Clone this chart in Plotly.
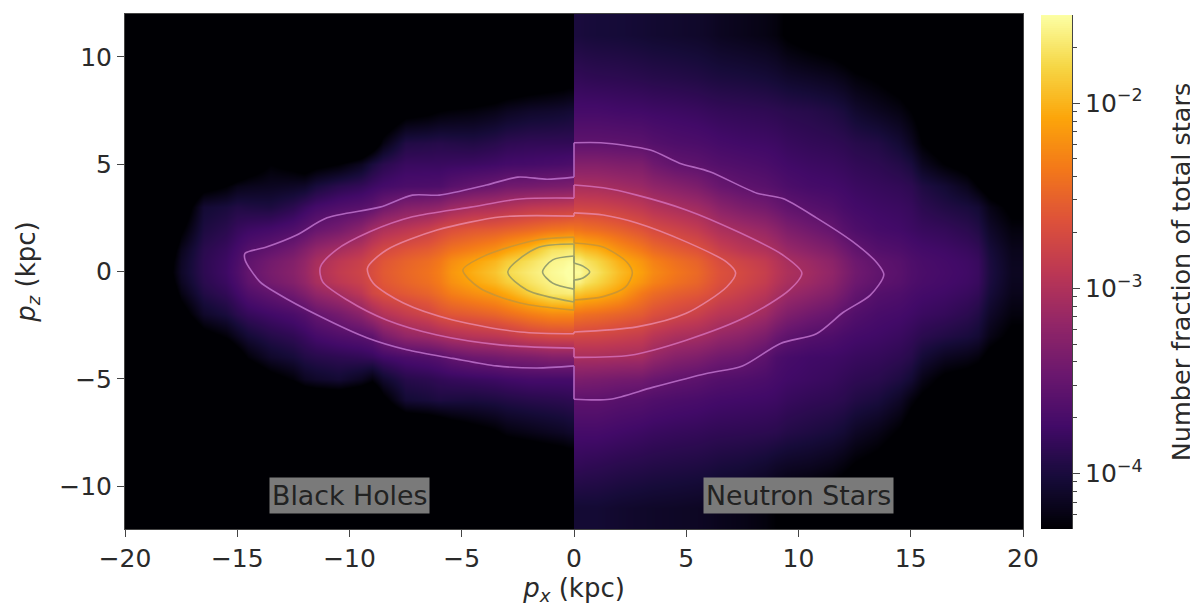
import numpy as np
import plotly.graph_objects as go

# Vertical sample positions (kpc), listed from top to bottom
pz_rows = [11, 9, 7.5, 6, 5, 4, 3, 2, 1, .5, 0, -.5, -1, -2, -3, -4, -5, -6, -7.5, -9, -11]

# Cell edges along px (kpc) for the neutron star half; the black hole half mirrors them
px_edges = [0, .5, 1.5, 2.5, 3.5, 5.5, 6.5, 8.5, 9.5, 11.5, 12.5, 14.5, 15.5, 17.5, 18.5, 20.5]

# log10(number fraction), one list per px column, going outward from px = 0
ns_columns = [
    [-4.0, -3.85, -3.72, -3.55, -3.3, -3.05, -2.77, -2.4, -1.9, -1.63, -1.55, -1.63, -1.9, -2.4, -2.75, -3.05, -3.35, -3.56, -3.72, -3.85, -4.05],
    [-4.02, -3.87, -3.72, -3.55, -3.3, -3.06, -2.78, -2.45, -2.0, -1.8, -1.72, -1.8, -1.98, -2.44, -2.76, -3.05, -3.37, -3.56, -3.72, -3.87, -4.05],
    [-4.03, -3.88, -3.74, -3.56, -3.33, -3.1, -2.83, -2.53, -2.2, -2.02, -1.95, -2.0, -2.12, -2.5, -2.8, -3.07, -3.4, -3.6, -3.75, -3.9, -4.08],
    [-4.05, -3.9, -3.75, -3.58, -3.35, -3.15, -2.9, -2.63, -2.35, -2.18, -2.12, -2.18, -2.35, -2.57, -2.85, -3.08, -3.42, -3.62, -3.78, -3.92, -4.1],
    [-4.08, -3.93, -3.78, -3.66, -3.53, -3.28, -3.04, -2.78, -2.55, -2.42, -2.37, -2.41, -2.53, -2.74, -3.03, -3.28, -3.53, -3.68, -3.82, -3.95, -4.12],
    [-4.12, -3.97, -3.82, -3.7, -3.6, -3.42, -3.17, -2.95, -2.71, -2.6, -2.56, -2.58, -2.65, -2.88, -3.12, -3.38, -3.6, -3.72, -3.85, -3.98, -4.15],
    [-4.18, -4.0, -3.85, -3.75, -3.66, -3.55, -3.35, -3.1, -2.92, -2.78, -2.73, -2.75, -2.83, -3.0, -3.25, -3.47, -3.65, -3.75, -3.87, -4.02, -4.2],
    [-4.25, -4.05, -3.88, -3.78, -3.72, -3.63, -3.47, -3.25, -3.06, -2.96, -2.93, -2.96, -3.04, -3.23, -3.47, -3.67, -3.72, -3.78, -3.9, -4.1, -4.3],
    [-4.4, -4.12, -3.92, -3.84, -3.78, -3.72, -3.6, -3.43, -3.25, -3.14, -3.1, -3.13, -3.22, -3.42, -3.62, -3.75, -3.78, -3.85, -3.97, -4.15, -4.4],
    [-4.5, -4.2, -4.0, -3.88, -3.82, -3.76, -3.7, -3.6, -3.43, -3.35, -3.32, -3.35, -3.41, -3.57, -3.7, -3.78, -3.84, -3.9, -4.05, -4.25, -4.5],
    [-4.6, -4.32, -4.15, -3.95, -3.88, -3.82, -3.77, -3.72, -3.62, -3.55, -3.53, -3.55, -3.62, -3.7, -3.76, -3.83, -3.9, -4.0, -4.2, -4.38, -4.6],
    [-4.7, -4.5, -4.3, -4.15, -4.0, -3.88, -3.82, -3.78, -3.7, -3.66, -3.65, -3.66, -3.7, -3.76, -3.84, -3.92, -4.05, -4.25, -4.45, -4.6, -4.75],
    [-4.8, -4.65, -4.5, -4.45, -4.3, -4.05, -3.95, -3.84, -3.76, -3.73, -3.72, -3.73, -3.76, -3.83, -3.95, -4.15, -4.35, -4.45, -4.6, -4.75, -4.85],
    [-4.9, -4.8, -4.75, -4.65, -4.5, -4.3, -4.05, -3.95, -3.85, -3.81, -3.8, -3.81, -3.85, -3.95, -4.05, -4.25, -4.45, -4.6, -4.75, -4.85, -4.95],
    [-5, -5, -4.9, -4.8, -4.7, -4.55, -4.35, -4.25, -4.18, -4.16, -4.15, -4.16, -4.18, -4.25, -4.35, -4.5, -4.65, -4.8, -4.9, -5, -5],
]
bh_columns = [
    [-4.9, -4.4, -4.05, -3.85, -3.68, -3.35, -2.85, -2.37, -1.68, -1.55, -1.5, -1.54, -1.65, -2.25, -2.72, -3.3, -3.72, -3.88, -4.1, -4.5, -4.9],
    [-4.95, -4.45, -4.08, -3.85, -3.7, -3.37, -2.87, -2.4, -1.72, -1.6, -1.57, -1.6, -1.68, -2.25, -2.73, -3.3, -3.72, -3.9, -4.15, -4.55, -4.95],
    [-5, -4.5, -4.1, -3.85, -3.72, -3.4, -2.9, -2.47, -1.95, -1.74, -1.67, -1.72, -1.85, -2.33, -2.78, -3.35, -3.72, -3.92, -4.2, -4.6, -5],
    [-5, -4.55, -4.15, -3.87, -3.73, -3.42, -2.97, -2.53, -2.1, -1.87, -1.78, -1.86, -2.05, -2.43, -2.88, -3.38, -3.75, -3.95, -4.25, -4.65, -5],
    [-5, -4.65, -4.25, -3.95, -3.78, -3.52, -3.05, -2.6, -2.3, -2.1, -2.03, -2.08, -2.22, -2.55, -2.95, -3.45, -3.8, -4.0, -4.4, -4.8, -5],
    [-5, -4.75, -4.3, -3.92, -3.8, -3.66, -3.22, -2.73, -2.48, -2.36, -2.32, -2.34, -2.42, -2.65, -3.07, -3.6, -3.85, -3.98, -4.6, -4.9, -5],
    [-5, -4.8, -4.4, -3.95, -3.8, -3.68, -3.3, -2.92, -2.62, -2.51, -2.48, -2.5, -2.58, -2.85, -3.2, -3.68, -3.92, -4.05, -4.7, -5, -5],
    [-5, -5, -4.8, -4.5, -4.0, -3.78, -3.55, -3.1, -2.82, -2.71, -2.68, -2.7, -2.75, -3.1, -3.55, -3.82, -4.25, -4.7, -4.9, -5, -5],
    [-5, -5, -4.95, -4.9, -4.3, -3.9, -3.65, -3.4, -3.06, -2.91, -2.87, -2.91, -3.07, -3.4, -3.65, -3.88, -4.05, -4.55, -4.95, -5, -5],
    [-5, -5, -5, -4.9, -4.45, -4.1, -3.8, -3.58, -3.3, -3.2, -3.17, -3.2, -3.32, -3.62, -3.8, -3.95, -4.15, -4.6, -5, -5, -5],
    [-5, -5, -5, -4.9, -4.3, -4.15, -3.98, -3.73, -3.52, -3.41, -3.38, -3.41, -3.53, -3.75, -3.93, -4.1, -4.4, -4.8, -5, -5, -5],
    [-5, -5, -5, -5, -4.65, -4.2, -3.95, -3.82, -3.72, -3.68, -3.66, -3.69, -3.75, -3.9, -4.15, -4.45, -4.8, -5, -5, -5, -5],
    [-5, -5, -5, -5, -5, -4.4, -4.05, -3.98, -3.9, -3.88, -3.88, -3.9, -3.95, -4.1, -4.4, -4.8, -5, -5, -5, -5, -5],
    [-5, -5, -5, -5, -5, -5, -5, -4.7, -4.45, -4.38, -4.35, -4.4, -4.5, -4.75, -5, -5, -5, -5, -5, -5, -5],
    [-5, -5, -5, -5, -5, -5, -5, -5, -5, -4.96, -4.95, -4.96, -5, -5, -5, -5, -5, -5, -5, -5, -5],
]

# Contours, one open arc per half (px, pz)
bh1_x = [0, -1.2, -2.5, -3.9, -6, -7.2, -8.65, -11, -12.35, -13.7, -14.65, -14.65, -14, -13.25, -11.3, -9.2, -7.45, -5.4, -3.45, -1.65, 0]
bh1_z = [4.4, 4.3, 4.4, 4.03, 3.56, 3.56, 3.0, 2.5, 1.7, 1.14, .85, .54, -.47, -1.0, -2.1, -3.1, -3.65, -4.05, -4.4, -4.5, -4.4]
ns1_x = [0, 1.6, 3.5, 5.9, 7.5, 9.2, 10.8, 12, 13.2, 13.8, 13.5, 12.4, 10.8, 9.3, 8.15, 6.05, 4.7, 3.4, 1.2, 0]
ns1_z = [-5.95, -5.95, -5.4, -4.75, -4.4, -3.35, -2.9, -1.9, -1.1, -.15, .4, 1.4, 2.5, 3.4, 3.65, 4.65, 5.05, 5.66, 6.0, 6.0]
bh2_x = [0, -2.4, -4.6, -7.2, -9.1, -10.6, -11.3, -11.2, -10.1, -8.35, -6.1, -3.2, 0]
bh2_z = [3.42, 3.38, 3.0, 2.55, 1.85, 1.0, .2, -.47, -1.33, -2.26, -2.96, -3.43, -3.57]
ns2_x = [0, 2.5, 5, 7.7, 9.6, 10.15, 9.3, 7.3, 5, 2.8, 1.3, 0]
ns2_z = [-4.0, -3.9, -3.2, -2.1, -.86, -.07, .77, 1.85, 2.87, 3.56, 3.9, 4.03]
bh3_x = [0, -3.2, -6.1, -8.35, -9.2, -8.95, -7.6, -5.4, -2.4, 0]
bh3_z = [2.58, 2.55, 1.93, 1.0, .16, -.54, -1.47, -2.26, -2.82, -2.9]
ns3_x = [0, 2.8, 5, 6.8, 7.2, 6.8, 5, 2.8, 1.3, 0]
ns3_z = [-2.82, -2.58, -1.95, -.72, -.07, .44, 1.38, 2.26, 2.63, 2.73]
bh4_x = [0, -1.65, -3.9, -4.95, -4.2, -2.4, 0]
bh4_z = [1.6, 1.47, .77, .07, -.77, -1.47, -1.8]
ns4_x = [0, 1.3, 2.3, 2.6, 2.35, 1.3, 0]
ns4_z = [-1.33, -1.17, -.72, -.07, .44, 1.14, 1.33]
bh5_x = [0, -1.65, -2.95, -2.1, 0]
bh5_z = [1.28, 1.1, -.02, -.86, -1.42]
bh6_x = [0, -.95, -1.4, -.95, 0]
bh6_z = [.72, .54, -.02, -.54, -.82]
ns6_x = [0, .4, .7, .4, 0]
ns6_z = [-.4, -.3, -.02, .25, .4]

contours = [
    (bh1_x, bh1_z, ns1_x, ns1_z, "rgb(176,100,190)"),
    (bh2_x, bh2_z, ns2_x, ns2_z, "rgb(205,100,170)"),
    (bh3_x, bh3_z, ns3_x, ns3_z, "rgb(230,125,150)"),
    (bh4_x, bh4_z, ns4_x, ns4_z, "rgb(205,150,50)"),
    (bh5_x, bh5_z, [], [], "rgb(165,160,90)"),
    (bh6_x, bh6_z, ns6_x, ns6_z, "rgb(150,160,110)"),
]

x_ticks = [-20, -15, -10, -5, 0, 5, 10, 15, 20]
x_tick_labels = ["−20", "−15", "−10", "−5", "0", "5", "10", "15", "20"]
y_ticks = [-10, -5, 0, 5, 10]
y_tick_labels = ["−10", "−5", "0", "5", "10"]
cbar_ticks = [-4, -3, -2]
cbar_tick_labels = ["10<sup>−4</sup>", "10<sup>−3</sup>", "10<sup>−2</sup>"]
cbar_minor = [2, 3, 4, 5, 6, 7, 8, 9]
z_low, z_high = -4.30, -1.524

inferno = [
    [0.0, "rgb(0,0,4)"], [0.1, "rgb(22,11,57)"], [0.2, "rgb(66,10,104)"],
    [0.3, "rgb(106,23,110)"], [0.4, "rgb(147,38,103)"], [0.5, "rgb(188,55,84)"],
    [0.6, "rgb(221,81,58)"], [0.7, "rgb(243,120,25)"], [0.8, "rgb(252,165,10)"],
    [0.9, "rgb(246,215,70)"], [1.0, "rgb(252,255,164)"],
]

# The page puts an 8 px margin round the figure, so the figure is that much smaller
PAGE = 8
W, H = 1198 - PAGE, 609 - PAGE
FONT = "DejaVu Sans"
INK = "#2a2a2a"


def xdom(a, b):
    return [(a - PAGE) / W, (b - PAGE) / W]


def ydom(top, bottom):
    return [1 - (bottom - PAGE) / H, 1 - (top - PAGE) / H]


y_up = pz_rows[::-1]
ns_z = np.array(ns_columns).T[::-1]
bh_z = np.array(bh_columns).T[::-1][:, ::-1]
bh_edges = [-e for e in px_edges[::-1]]

fig = go.Figure()
fig.add_trace(go.Heatmap(x=px_edges, y=y_up, z=ns_z, coloraxis="coloraxis", zsmooth="best", hoverinfo="skip"))
fig.add_trace(go.Heatmap(x=bh_edges, y=y_up, z=bh_z, coloraxis="coloraxis", zsmooth="best", hoverinfo="skip"))
for lx, lz, rx, rz, col in contours:
    fig.add_trace(go.Scatter(x=lx, y=lz, mode="lines", line=dict(color=col, width=1.6, shape="spline", smoothing=0.8),
                             showlegend=False, hoverinfo="skip"))
    if rx:
        fig.add_trace(go.Scatter(x=rx, y=rz, mode="lines", line=dict(color=col, width=1.6, shape="spline", smoothing=0.8),
                                 showlegend=False, hoverinfo="skip"))
        # the two halves are joined by short vertical runs along px = 0
        fig.add_trace(go.Scatter(x=[0, 0, None, 0, 0], y=[lz[0], rz[-1], None, lz[-1], rz[0]], mode="lines",
                                 line=dict(color=col, width=1.6), showlegend=False, hoverinfo="skip"))
    else:
        fig.add_trace(go.Scatter(x=[0, 0], y=[lz[0], lz[-1]], mode="lines",
                                 line=dict(color=col, width=1.6), showlegend=False, hoverinfo="skip"))

# Colour bar drawn on its own axes so that it can carry major and minor log ticks
bar_levels = np.linspace(z_low, z_high, 256)
fig.add_trace(go.Heatmap(x=[0, 1], y=bar_levels, z=np.column_stack([bar_levels, bar_levels]),
                         coloraxis="coloraxis", xaxis="x2", yaxis="y2", hoverinfo="skip"))

minor_vals = [e + np.log10(m) for e in (-5, -4, -3, -2) for m in cbar_minor]
minor_vals = [v for v in minor_vals if z_low <= v <= z_high]

axis_common = dict(showgrid=False, zeroline=False, showline=True, linecolor="#444", linewidth=1,
                   automargin=False, ticks="outside", ticklen=7, tickwidth=1, tickcolor="#444",
                   tickfont=dict(family=FONT, size=25, color=INK))

fig.update_layout(
    template="none",
    width=W, height=H, autosize=False,
    margin=dict(l=0, r=0, t=0, b=0),
    paper_bgcolor="white", plot_bgcolor="black",
    showlegend=False,
    coloraxis=dict(colorscale=inferno, cmin=z_low, cmax=z_high, showscale=False),
    xaxis=dict(domain=xdom(125, 1023), range=[-20, 20], tickvals=x_ticks, ticktext=x_tick_labels,
               mirror=True, title=dict(text="<i>p<sub>x</sub></i> (kpc)", standoff=5,
                                       font=dict(family=FONT, size=26, color=INK)), **axis_common),
    yaxis=dict(domain=ydom(14, 529), range=[-12, 12], tickvals=y_ticks, ticktext=y_tick_labels,
               mirror=True, title=dict(text="<i>p<sub>z</sub></i> (kpc)", standoff=16,
                                       font=dict(family=FONT, size=26, color=INK)), **axis_common),
    xaxis2=dict(domain=xdom(1041, 1072), range=[0, 1], anchor="y2", visible=False),
    yaxis2=dict(domain=ydom(15, 529), range=[z_low, z_high], anchor="x2", side="right",
                tickvals=cbar_ticks, ticktext=cbar_tick_labels,
                minor=dict(tickvals=minor_vals, ticks="outside", ticklen=4, tickwidth=1, tickcolor="#444"),
                title=dict(text="Number fraction of total stars", standoff=30,
                           font=dict(family=FONT, size=25.5, color=INK)), **axis_common),
    annotations=[
        dict(x=-10, y=-10.45, xref="x", yref="y", text="Black Holes", showarrow=False,
             font=dict(family=FONT, size=26.8, color="#222"), bgcolor="rgb(122,122,122)", borderpad=2),
        dict(x=10, y=-10.45, xref="x", yref="y", text="Neutron Stars", showarrow=False,
             font=dict(family=FONT, size=26.8, color="#222"), bgcolor="rgb(122,122,122)", borderpad=2),
    ],
)

fig.write_html("out.html")
